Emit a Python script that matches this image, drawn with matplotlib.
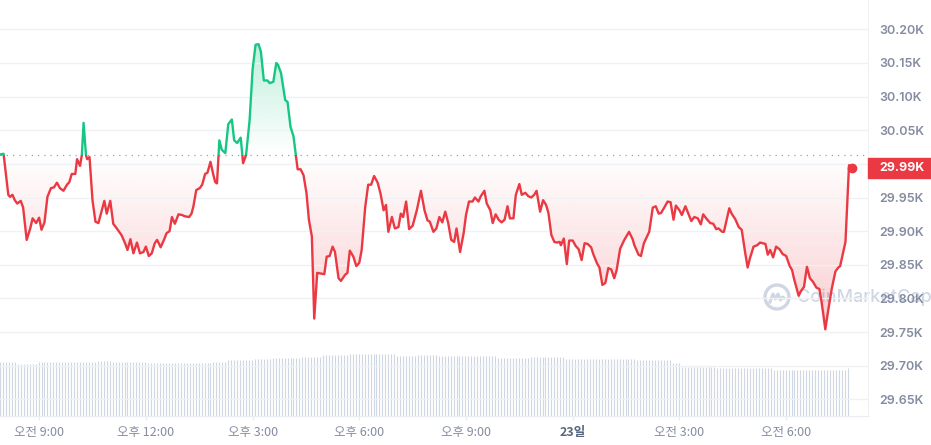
import numpy as np
import matplotlib

matplotlib.use("Agg")
import matplotlib.pyplot as plt
from matplotlib.patches import Rectangle, Circle
from matplotlib.path import Path
from matplotlib.transforms import IdentityTransform, blended_transform_factory

# minutes since 07:54 (22일) and price in USD
minutes = [
    0, 6, 14, 17, 21, 25, 29, 35, 39, 45, 51, 55, 61, 66, 70, 75, 80, 86, 91, 96,
    101, 107, 113, 117, 121, 127, 130, 135, 138, 141, 145, 147, 151, 156, 161, 166, 172, 176, 180, 186,
    191, 197, 205, 211, 215, 220, 225, 231, 236, 242, 246, 251, 256, 261, 265, 271, 277, 281, 286, 290,
    295, 301, 307, 312, 319, 323, 326, 331, 337, 341, 346, 350, 355, 360, 363, 366, 370, 374, 380, 385,
    391, 395, 400, 406, 410, 415, 421, 426, 431, 436, 440, 445, 451, 455, 461, 466, 469, 474, 481, 485,
    490, 495, 499, 502, 507, 512, 517, 521, 526, 530, 535, 547, 551, 556, 561, 565, 571, 575, 582, 586,
    590, 596, 601, 606, 610, 616, 621, 626, 631, 637, 642, 647, 651, 655, 661, 666, 672, 676, 680, 685,
    690, 696, 703, 710, 716, 721, 725, 731, 736, 741, 746, 751, 756, 761, 766, 770, 776, 782, 786, 791,
    797, 801, 807, 811, 817, 821, 827, 831, 836, 841, 846, 851, 856, 860, 866, 870, 876, 880, 886, 891,
    896, 901, 905, 911, 916, 921, 925, 930, 935, 939, 944, 946, 951, 956, 960, 966, 971, 976, 981, 986,
    991, 997, 1001, 1007, 1011, 1016, 1021, 1026, 1031, 1036, 1040, 1046, 1053, 1061, 1067, 1070, 1077, 1081, 1086, 1095,
    1101, 1106, 1111, 1115, 1121, 1126, 1131, 1136, 1140, 1146, 1150, 1156, 1161, 1166, 1171, 1177, 1182, 1186, 1192, 1198,
    1203, 1208, 1212, 1218, 1221, 1230, 1234, 1240, 1246, 1251, 1257, 1261, 1265, 1271, 1277, 1282, 1291, 1295, 1299, 1304,
    1309, 1315, 1320, 1326, 1332, 1336, 1339, 1347, 1351, 1356, 1361, 1366, 1371, 1377, 1382, 1386, 1392, 1397, 1403, 1409,
    1414, 1417, 1426, 1432, 1437,
]
prices = [
    30014, 30015, 29954, 29951, 29954, 29946, 29941, 29945, 29935, 29887, 29904, 29919, 29912, 29920, 29902, 29913, 29951, 29964, 29965, 29972,
    29964, 29960, 29969, 29973, 29985, 29985, 30007, 29997, 30013, 30061, 30013, 30007, 30010, 29946, 29914, 29912, 29932, 29945, 29926, 29945,
    29911, 29904, 29894, 29882, 29872, 29888, 29867, 29883, 29867, 29869, 29877, 29863, 29867, 29882, 29887, 29876, 29888, 29897, 29900, 29921,
    29911, 29925, 29924, 29922, 29921, 29926, 29936, 29961, 29964, 29969, 29985, 29987, 30003, 29983, 29973, 29971, 30035, 30021, 30016, 30059,
    30066, 30035, 30031, 30039, 30001, 30013, 30065, 30140, 30177, 30178, 30167, 30124, 30124, 30120, 30122, 30150, 30147, 30135, 30095, 30092,
    30055, 30041, 30013, 29992, 29992, 29983, 29956, 29917, 29892, 29770, 29838, 29836, 29862, 29863, 29877, 29869, 29830, 29826, 29835, 29838,
    29871, 29862, 29848, 29853, 29872, 29936, 29969, 29969, 29982, 29972, 29955, 29931, 29939, 29899, 29921, 29904, 29906, 29926, 29921, 29944,
    29903, 29908, 29931, 29960, 29931, 29916, 29914, 29899, 29904, 29921, 29913, 29929, 29912, 29887, 29884, 29904, 29869, 29897, 29924, 29944,
    29944, 29950, 29944, 29952, 29960, 29941, 29931, 29912, 29925, 29917, 29913, 29917, 29937, 29919, 29919, 29954, 29970, 29954, 29957, 29952,
    29950, 29954, 29960, 29929, 29946, 29939, 29927, 29894, 29884, 29883, 29884, 29879, 29889, 29851, 29886, 29886, 29878, 29873, 29857, 29882,
    29881, 29876, 29865, 29852, 29846, 29820, 29823, 29845, 29843, 29830, 29842, 29874, 29887, 29899, 29888, 29879, 29865, 29863, 29882, 29899,
    29935, 29937, 29926, 29927, 29936, 29944, 29943, 29917, 29938, 29931, 29924, 29937, 29926, 29915, 29921, 29919, 29910, 29925, 29918, 29912,
    29911, 29903, 29904, 29899, 29899, 29934, 29926, 29918, 29906, 29902, 29867, 29846, 29860, 29877, 29879, 29883, 29881, 29865, 29872, 29861,
    29877, 29873, 29866, 29863, 29848, 29842, 29830, 29804, 29811, 29817, 29847, 29830, 29825, 29816, 29814, 29793, 29754, 29783, 29815, 29840,
    29846, 29848, 29884, 29998, 29994,
]
ref_price = 30013  # price 24h ago (dotted line)

# 24h volume bars (5-minute steps): level, number of bars at that level
vol_levels = [13.5, 13.0, 13.4, 13.75, 13.5, 13.25, 13.6, 13.9, 14.3, 14.6, 14.8, 15.25, 15.5,
              15.1, 15.25, 15.1, 14.4, 14.75, 14.3, 14.0, 13.3, 12.3, 12.0, 11.5, 12.0]
vol_counts = [6, 7, 20, 5, 12, 22, 5, 9, 6, 10, 7, 9, 16,
              7, 7, 20, 11, 12, 24, 12, 3, 12, 19, 25, 1]

tick_minutes = [66, 246, 426, 606, 786, 966, 1146, 1326]
tick_labels = ["오전 9:00", "오후 12:00", "오후 3:00", "오후 6:00", "오후 9:00", "23일", "오전 3:00", "오전 6:00"]
price_ticks = [29650, 29700, 29750, 29800, 29850, 29900, 29950, 30000, 30050, 30100, 30150, 30200]

GREEN = "#16c784"
RED = "#ea3943"
LABEL = "#858ca2"

t = np.array(minutes, dtype=float)
p = np.array(prices, dtype=float)
volume = np.repeat(vol_levels, vol_counts)
vol_t = np.arange(len(volume)) * 5.0

fig = plt.figure(figsize=(9.31, 4.45), dpi=100)
rect = [0, 29 / 445, 868 / 931, 416 / 445]
ax_vol = fig.add_axes(rect)
ax = fig.add_axes(rect, sharex=ax_vol)
ax.set_facecolor("none")

XMAX = 1464
YMIN, YMAX = 29625.2, 30243.6

# volume bars
ax_vol.vlines(vol_t, 0, volume, color="#cfd7e5", lw=0.8)
ax_vol.set_ylim(0, 104)
ax_vol.set_axis_off()


def gradient_fill(below, color, amax):
    if below:
        coll = ax.fill_between(t, p, ref_price, where=p <= ref_price, interpolate=True,
                               facecolor="none", edgecolor="none")
        lo, hi = p.min(), ref_price
        alpha = np.linspace(amax, 0.0, 256)
    else:
        coll = ax.fill_between(t, p, ref_price, where=p >= ref_price, interpolate=True,
                               facecolor="none", edgecolor="none")
        lo, hi = ref_price, p.max()
        alpha = np.linspace(0.0, amax, 256)
    img = np.zeros((256, 1, 4))
    img[..., :3] = matplotlib.colors.to_rgb(color)
    img[..., 3] = alpha[:, None]
    im = ax.imshow(img, aspect="auto", extent=[t.min(), t.max(), lo, hi], origin="lower", zorder=1)
    clip = Path.make_compound_path(*coll.get_paths())
    im.set_clip_path(clip, transform=ax.transData)


gradient_fill(True, RED, 0.25)
gradient_fill(False, GREEN, 0.28)

# line, green above reference, red below
upper = Rectangle((-100, ref_price), 3000, 1000, transform=ax.transData)
lower = Rectangle((-100, ref_price - 1000), 3000, 1000, transform=ax.transData)
lg, = ax.plot(t, p, color=GREEN, lw=1.7, zorder=4, solid_joinstyle="round")
lg.set_clip_path(upper)
lr, = ax.plot(t, p, color=RED, lw=1.7, zorder=4, solid_joinstyle="round")
lr.set_clip_path(lower)
ax.plot(t[-1:], p[-1:], "o", color=RED, ms=6, zorder=5)

ax.axhline(ref_price, color="#9aa1ad", lw=0.9, ls=(0, (1, 4)), zorder=3)

ax.set_xlim(0, XMAX)
ax.set_ylim(YMIN, YMAX)

# axes styling
for side in ["left", "top"]:
    ax.spines[side].set_visible(False)
ax.spines["bottom"].set_color("#e9ecf1")
ax.spines["right"].set_color("#eff2f5")
ax.grid(axis="y", color="#eff2f5", lw=1, zorder=0)
ax.yaxis.tick_right()
ax.set_yticks(price_ticks)
ax.set_yticklabels(["" if v == 30000 else f"{v / 1000:.2f}K" for v in price_ticks],
                   fontfamily="Inter", fontsize=9, fontweight="semibold", color=LABEL)
ax.tick_params(axis="y", length=0, pad=8)

ax.set_xticks(tick_minutes)
ax.set_xticklabels(tick_labels, fontfamily=["Noto Sans CJK KR", "DejaVu Sans"], fontsize=9, color=LABEL)
ax.tick_params(axis="x", length=3, color="#e9ecf1", pad=4)
for lab in ax.get_xticklabels():
    if lab.get_text() == "23일":
        lab.set_fontweight("bold")
        lab.set_color("#58667e")

# current price tag
tr = blended_transform_factory(ax.transAxes, ax.transData)
ax.add_patch(Rectangle((1.0, p[-1] - 14.9), 0.1, 29.8, transform=tr, color=RED, clip_on=False, zorder=6))
ax.text(879 / 868, p[-1], "29.99K", transform=tr, ha="left", va="center", fontfamily="Inter",
        fontsize=9, fontweight="bold", color="white", zorder=7)

# watermark, behind the chart
wm = "#cfd6e4"
H = 445
fig.add_artist(Circle((777, H - 297), 12, transform=IdentityTransform(), fill=False,
                      ec=wm, lw=2.4, zorder=-1))
wx = np.array([-7, -4, -1.5, 1, 3.5, 5.5, 7])
wy = np.array([-5, 3, -2, 3, -3, 0, -1])
fig.add_artist(plt.Line2D(777 + wx, H - 297 + wy, transform=IdentityTransform(), color=wm,
                          lw=2.2, zorder=-1))
fig.text(797 / 931, 1 - 297 / H, "CoinMarketCap", ha="left", va="center", fontfamily="Inter",
         fontsize=13, fontweight="medium", color=wm, zorder=-1)

fig.savefig("out.png", dpi=100)
